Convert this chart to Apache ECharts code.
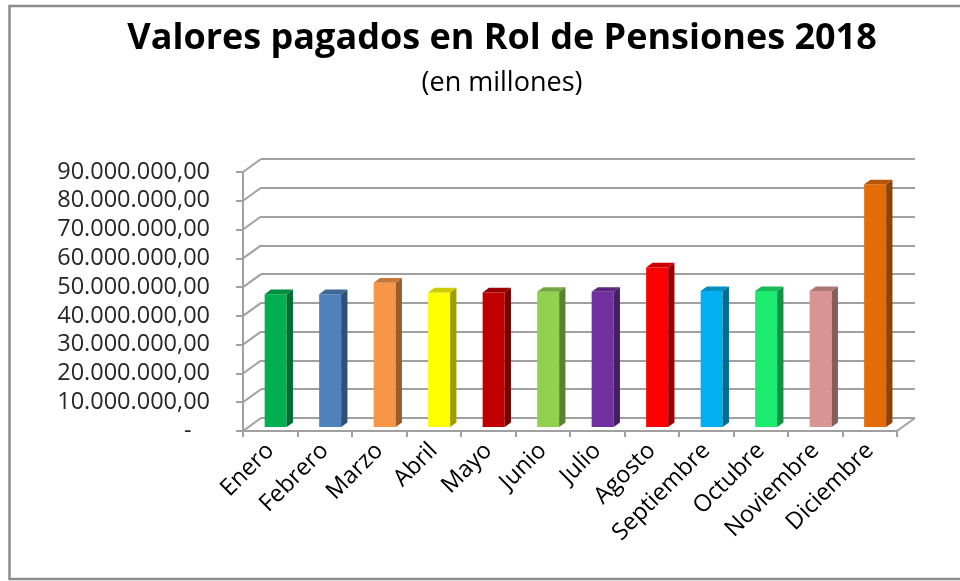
<!DOCTYPE html>
<html>
<head>
<meta charset="utf-8">
<script src="https://cdn.jsdelivr.net/npm/echarts@6/dist/echarts.min.js"></script>
<style>
  html, body { margin: 0; padding: 0; background: #fff; }
  #chart { width: 960px; height: 581px; }
</style>
</head>
<body>
<div id="chart"></div>
<script>
// datos del grafico
var meses = ['Enero', 'Febrero', 'Marzo', 'Abril', 'Mayo', 'Junio', 'Julio', 'Agosto', 'Septiembre', 'Octubre', 'Noviembre', 'Diciembre'];
var pagos = [46200000, 46200000, 50200000, 46800000, 46800000, 47000000, 47000000, 55500000, 47300000, 47300000, 47300000, 84400000];
var marcasY = [0, 10000000, 20000000, 30000000, 40000000, 50000000, 60000000, 70000000, 80000000, 90000000];

var colores = ['#00B050', '#4F81BD', '#F79646', '#FFFF00', '#C00000', '#92D050', '#7030A0', '#FF0000', '#00B0F0', '#1DEB6F', '#D99594', '#E36C09'];

// perspectiva (pixeles)
var DX = 18, DY = 13;
var GRIS = '#A0A0A0';
var FUENTE = '"Open Sans", sans-serif';

function oscurecer(hex, f) {
    var n = parseInt(hex.slice(1), 16);
    var r = Math.round(((n >> 16) & 255) * f);
    var g = Math.round(((n >> 8) & 255) * f);
    var b = Math.round((n & 255) * f);
    return 'rgb(' + r + ',' + g + ',' + b + ')';
}

function formato(v) {
    if (v === 0) return '-   ';
    return String(v).replace(/\B(?=(\d{3})+(?!\d))/g, '.') + ',00';
}

var myChart = echarts.init(document.getElementById('chart'));

myChart.setOption({
    animation: false,
    title: [
        {
            text: 'Valores pagados en Rol de Pensiones 2018',
            left: 497, top: 16, textAlign: 'center',
            textStyle: {fontFamily: FUENTE, fontWeight: 'bold', fontSize: 36, color: '#000'}
        },
        {
            text: '(en millones)',
            left: 497, top: 65, textAlign: 'center',
            textStyle: {fontFamily: FUENTE, fontWeight: 'normal', fontSize: 27, color: '#000'}
        }
    ],
    graphic: [
        {
            type: 'rect', silent: true,
            shape: {x: 9.5, y: 6, width: 1000, height: 573},
            style: {fill: null, stroke: '#8C8C8C', lineWidth: 2.5}
        }
    ],
    grid: [
        {left: 243, right: 63, top: 172, bottom: 150},
        {left: 261, right: 45, top: 159, bottom: 163}
    ],
    xAxis: [
        {
            type: 'category', gridIndex: 0, data: meses,
            axisLine: {lineStyle: {color: GRIS, width: 2}},
            axisTick: {show: true, length: 6, lineStyle: {color: GRIS, width: 2}},
            axisLabel: {rotate: 45, margin: 16, fontFamily: FUENTE, fontSize: 23.5, color: '#000', interval: 0}
        },
        {type: 'category', gridIndex: 1, data: meses, show: false}
    ],
    yAxis: [
        {
            type: 'value', gridIndex: 0, min: 0, max: 90000000, interval: 10000000,
            axisLine: {show: true, lineStyle: {color: GRIS, width: 2}},
            axisTick: {show: true, length: 7, lineStyle: {color: GRIS, width: 2}},
            splitLine: {show: false},
            axisLabel: {margin: 33, fontFamily: FUENTE, fontSize: 23.5, color: '#262626', formatter: formato}
        },
        {
            type: 'value', gridIndex: 1, min: 0, max: 90000000, interval: 10000000,
            axisLine: {show: false}, axisTick: {show: false}, axisLabel: {show: false},
            splitLine: {show: true, lineStyle: {color: GRIS, width: 2}}
        }
    ],
    series: [
        {
            // pared lateral y piso
            type: 'custom', xAxisIndex: 0, yAxisIndex: 0, z: 1, silent: true,
            data: marcasY.map(function (v) { return [0, v]; }),
            renderItem: function (params, api) {
                var cs = params.coordSys;
                var y = api.coord([0, api.value(1)])[1];
                var estilo = {stroke: GRIS, lineWidth: 2};
                var hijos = [{
                    type: 'line',
                    shape: {x1: cs.x, y1: y, x2: cs.x + DX, y2: y - DY},
                    style: estilo
                }];
                if (api.value(1) === 0) {
                    hijos.push({
                        type: 'line',
                        shape: {x1: cs.x + cs.width, y1: y, x2: cs.x + cs.width + DX, y2: y - DY},
                        style: estilo
                    });
                }
                return {type: 'group', children: hijos};
            }
        },
        {
            // barras 3D
            type: 'custom', xAxisIndex: 0, yAxisIndex: 0, z: 5, silent: true,
            data: pagos.map(function (v, i) { return [i, v]; }),
            renderItem: function (params, api) {
                var i = api.value(0);
                var base = api.coord([i, 0]);
                var tope = api.coord([i, api.value(1)]);
                var ancho = 22, px = DX * 0.35, py = DY * 0.35;
                var cx = base[0] + DX * 0.3;
                var xl = cx - ancho / 2, xr = cx + ancho / 2;
                var yb = base[1] - DY * 0.3, yt = tope[1] - DY * 0.3;
                var c = colores[i];
                return {
                    type: 'group',
                    children: [
                        {type: 'rect', shape: {x: xl, y: yt, width: ancho, height: yb - yt}, style: {fill: c}},
                        {type: 'polygon', shape: {points: [[xr, yb], [xr + px, yb - py], [xr + px, yt - py], [xr, yt]]},
                            style: {fill: oscurecer(c, 0.62)}},
                        {type: 'polygon', shape: {points: [[xl, yt], [xl + px, yt - py], [xr + px, yt - py], [xr, yt]]},
                            style: {fill: oscurecer(c, 0.8)}}
                    ]
                };
            }
        }
    ]
});
</script>
</body>
</html>
